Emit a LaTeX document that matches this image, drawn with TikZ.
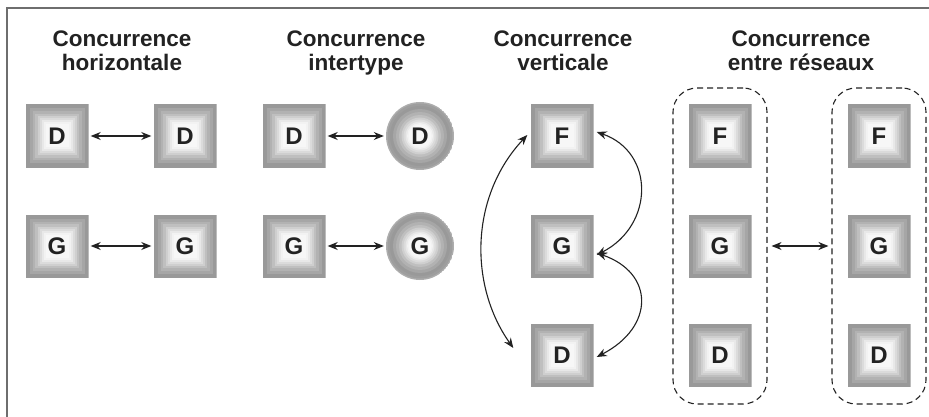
\documentclass[tikz,border=0pt]{standalone}
\usepackage{fontspec}
\setmainfont{Liberation Sans}
\usetikzlibrary{arrows.meta}
\definecolor{txt}{HTML}{222222}
\definecolor{framec}{HTML}{6E6E6E}
\tikzset{
  sqbox/.style={minimum size=63pt, inner sep=0pt, text=txt,
    font=\bfseries\fontsize{24}{24}\selectfont,
    path picture={
      \foreach \i/\c in {0/40,4/35,7/30,9.5/25,12/19,14/14,16/9,18/5,20/3}{
        \fill[black!\c] ([shift={(\i pt,-\i pt)}]path picture bounding box.north west)
          rectangle ([shift={(-\i pt,\i pt)}]path picture bounding box.south east);
      }}},
  circbox/.style={circle, minimum size=68pt, inner sep=0pt, text=txt,
    font=\bfseries\fontsize{24}{24}\selectfont,
    path picture={
      \foreach \i/\c in {0/32,1.5/38,4/40,7/35,10/30,13/25,15.5/19,17.5/14,19.5/9,21/5,22.5/3}{
        \fill[black!\c] (path picture bounding box.center) circle[radius=34pt-\i pt];
      }}},
  title/.style={align=center, text=txt, inner sep=0pt, anchor=north,
    font=\bfseries\fontsize{22.5}{24}\selectfont},
  dbl/.style={{Stealth[length=10pt,width=8pt]}-{Stealth[length=10pt,width=8pt]}, line width=1.1pt, txt},
  group/.style={draw=txt, dashed, dash pattern=on 6pt off 4pt, line width=1.1pt,
    rounded corners=24pt, minimum width=94pt, minimum height=316pt, inner sep=0pt}
}
\begin{document}
\begin{tikzpicture}[x=1pt,y=-1pt]
\useasboundingbox (0,0) rectangle (929,417);
\fill[white] (0,0) rectangle (929,417);
\draw[framec, line width=2pt] (7,417) -- (7,8) -- (929,8);

% titles
\node[title] (t1) at (122,31) {Concurrence\\horizontale};
\node[title] (t2) at (356,31) {Concurrence\\intertype};
\node[title] (t3) at (563,31) {Concurrence\\verticale};
\node[title] (t4) at (801,31) {Concurrence\\entre réseaux};

% column 1
\node[sqbox] (h1) at (57,136) {D};
\node[sqbox] (h2) at (185,136) {D};
\node[sqbox] (h3) at (57,246) {G};
\node[sqbox] (h4) at (185,246) {G};
\draw[dbl, shorten <=2pt, shorten >=2pt] (h1) -- (h2);
\draw[dbl, shorten <=2pt, shorten >=2pt] (h3) -- (h4);

% column 2
\node[sqbox] (i1) at (294,136) {D};
\node[circbox] (i2) at (420,136) {D};
\node[sqbox] (i3) at (294,246) {G};
\node[circbox] (i4) at (420,246) {G};
\draw[dbl, shorten <=2pt, shorten >=2pt] (i1) -- (i2);
\draw[dbl, shorten <=2pt, shorten >=2pt] (i3) -- (i4);

% column 3
\node[sqbox] (vF) at (562,136) {F};
\node[sqbox] (vG) at (562,246) {G};
\node[sqbox] (vD) at (562,355) {D};
\draw[dbl] ([shift={(3pt,4pt)}]vF.east) .. controls +(58,20) and +(58,-30) .. ([shift={(3pt,-9pt)}]vG.east);
\draw[dbl] ([shift={(3pt,-7pt)}]vG.east) .. controls +(58,20) and +(58,-30) .. ([shift={(3pt,-2pt)}]vD.east);
\draw[dbl] ([shift={(-3pt,1pt)}]vF.west) .. controls +(-58,62) and +(-44,-62) .. ([shift={(-17pt,7pt)}]vD.west);

% column 4
\node[group] (gL) at (720,246) {};
\node[group] (gR) at (879,246) {};
\node[sqbox] (aF) at (720,136) {F};
\node[sqbox] (aG) at (720,246) {G};
\node[sqbox] (aD) at (720,355) {D};
\node[sqbox] (bF) at (879,136) {F};
\node[sqbox] (bG) at (879,246) {G};
\node[sqbox] (bD) at (879,355) {D};
\draw[dbl, shorten <=4pt, shorten >=3pt] (gL) -- (gR);
\end{tikzpicture}
\end{document}
